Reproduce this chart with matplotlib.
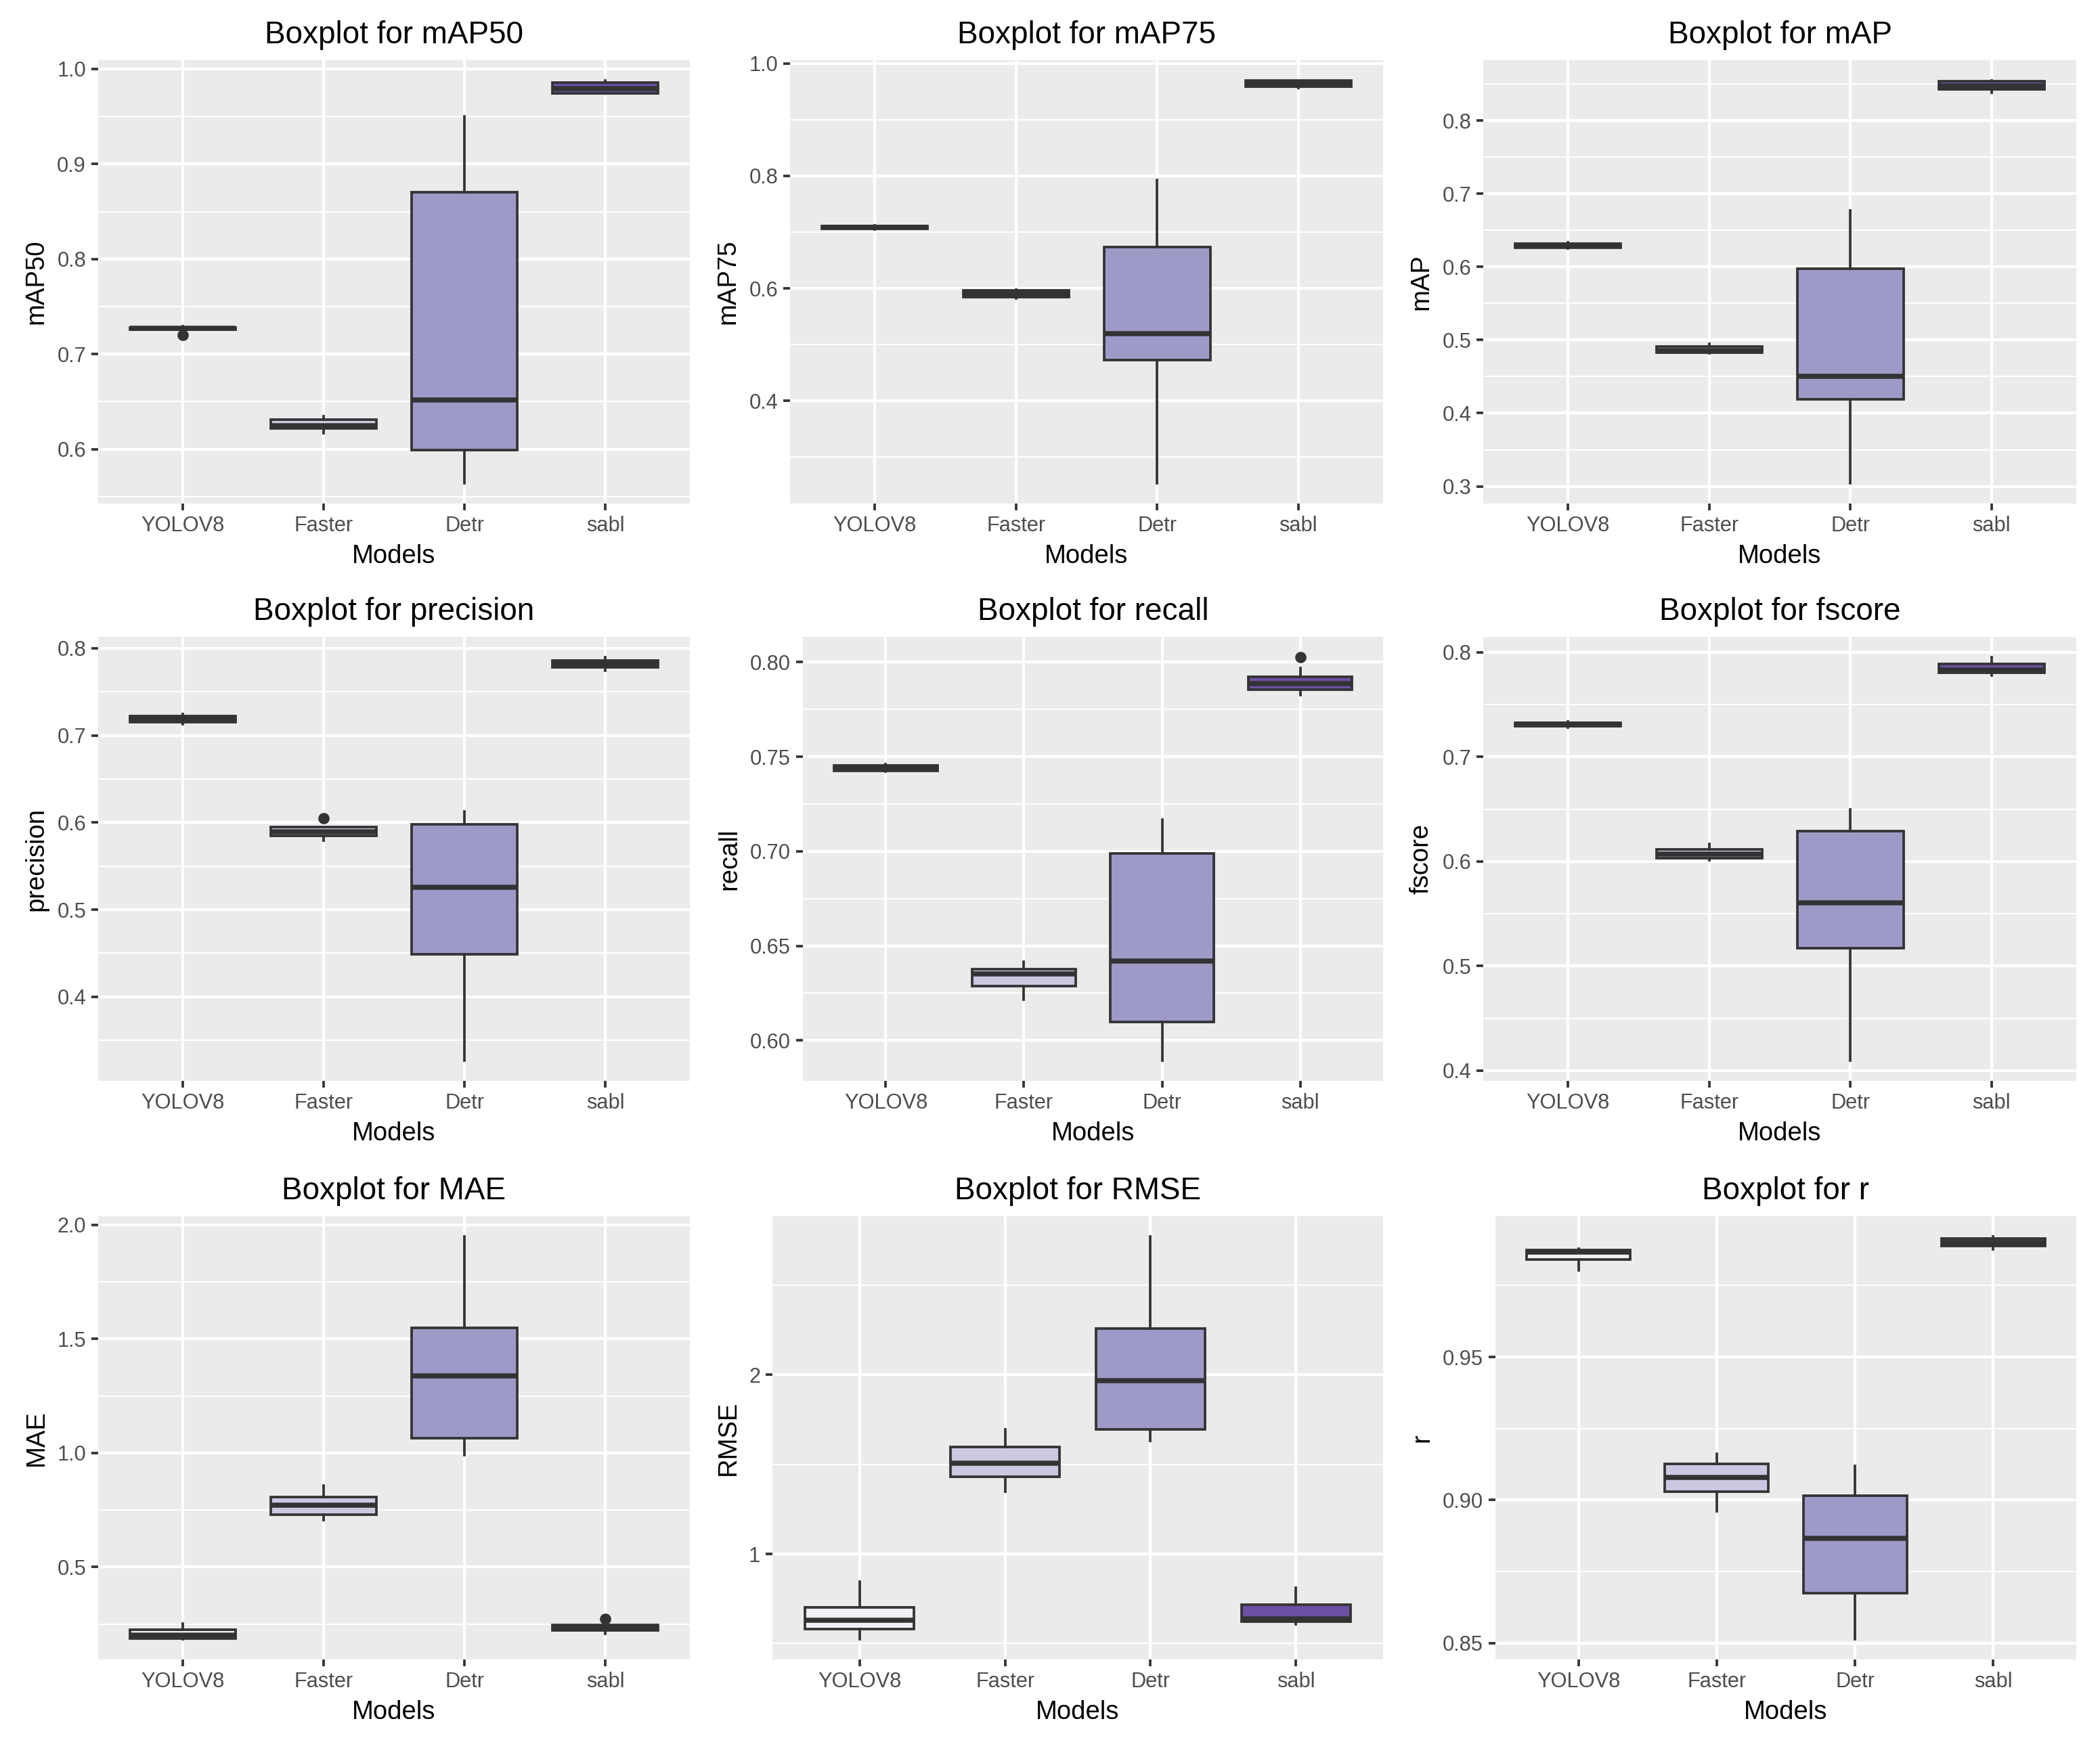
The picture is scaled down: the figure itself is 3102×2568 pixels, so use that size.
import matplotlib
matplotlib.use("Agg")
import matplotlib.pyplot as plt
from matplotlib.ticker import MultipleLocator, FormatStrFormatter

plt.rcParams['font.family'] = ['Liberation Sans', 'DejaVu Sans']

models = ["YOLOV8", "Faster", "Detr", "sabl"]
fills = ["#F2F0F7", "#CBC9E2", "#9E9AC8", "#6A51A3"]

# five numbers per model: lower whisker, q1, median, q3, upper whisker
map50 = [(0.7250, 0.7255, 0.7270, 0.7280, 0.7295),
         (0.617, 0.622, 0.625, 0.631, 0.635),
         (0.564, 0.599, 0.652, 0.870, 0.950),
         (0.974, 0.974, 0.979, 0.986, 0.988)]
map50_out = [[0.720], [], [], []]

map75 = [(0.705, 0.706, 0.709, 0.711, 0.712),
         (0.582, 0.585, 0.590, 0.596, 0.598),
         (0.253, 0.472, 0.519, 0.673, 0.793),
         (0.956, 0.959, 0.965, 0.970, 0.970)]
map75_out = [[], [], [], []]

mapall = [(0.6256, 0.626, 0.629, 0.632, 0.6336),
          (0.482, 0.4825, 0.486, 0.491, 0.495),
          (0.304, 0.4186, 0.450, 0.598, 0.677),
          (0.838, 0.843, 0.847, 0.854, 0.855)]
mapall_out = [[], [], [], []]

precision = [(0.7127, 0.7156, 0.719, 0.7224, 0.7245),
             (0.579, 0.585, 0.589, 0.5945, 0.5945),
             (0.3266, 0.449, 0.5257, 0.598, 0.6127),
             (0.774, 0.778, 0.782, 0.7857, 0.790)]
precision_out = [[], [0.6046], [], []]

recall = [(0.742, 0.7424, 0.744, 0.7455, 0.746),
          (0.6217, 0.6288, 0.6353, 0.6378, 0.6417),
          (0.5893, 0.6097, 0.6421, 0.6988, 0.7169),
          (0.7825, 0.7854, 0.7887, 0.7922, 0.7969)]
recall_out = [[], [], [], [0.8027]]

fscore = [(0.728, 0.7291, 0.731, 0.7327, 0.734),
          (0.6014, 0.6032, 0.6067, 0.6116, 0.6169),
          (0.4095, 0.5172, 0.5607, 0.6291, 0.6498),
          (0.7779, 0.7807, 0.7828, 0.7888, 0.7954)]
fscore_out = [[], [], [], []]

mae = [(0.1833, 0.1881, 0.203, 0.2267, 0.2508),
       (0.706, 0.730, 0.770, 0.807, 0.8585),
       (0.990, 1.066, 1.339, 1.548, 1.950),
       (0.209, 0.2219, 0.233, 0.2476, 0.2476)]
mae_out = [[], [], [], [0.2717]]

rmse = [(0.5235, 0.581, 0.630, 0.7035, 0.8446),
        (1.3476, 1.4294, 1.505, 1.599, 1.695),
        (1.6299, 1.6953, 1.969, 2.2577, 2.773),
        (0.607, 0.6217, 0.636, 0.7178, 0.8119)]
rmse_out = [[], [], [], []]

r_vals = [(0.9803, 0.984, 0.9867, 0.9874, 0.988),
          (0.896, 0.903, 0.9078, 0.9127, 0.9163),
          (0.8513, 0.8674, 0.8865, 0.9015, 0.912),
          (0.9877, 0.9888, 0.990, 0.9915, 0.9922)]
r_out = [[], [], [], []]

panels = [
    ("mAP50", map50, map50_out, 0.1, "%.1f"),
    ("mAP75", map75, map75_out, 0.2, "%.1f"),
    ("mAP", mapall, mapall_out, 0.1, "%.1f"),
    ("precision", precision, precision_out, 0.1, "%.1f"),
    ("recall", recall, recall_out, 0.05, "%.2f"),
    ("fscore", fscore, fscore_out, 0.1, "%.1f"),
    ("MAE", mae, mae_out, 0.5, "%.1f"),
    ("RMSE", rmse, rmse_out, 1.0, "%g"),
    ("r", r_vals, r_out, 0.05, "%.2f"),
]

W, H = 3102, 2568
fig = plt.figure(figsize=(W / 300, H / 300), dpi=300, facecolor="white")

# panel edges in pixels
lefts = [145, 1167, 2191, 145, 1186, 2191, 145, 1141, 2209]
rights = [1019, 2043, 3067]
tops = [89, 941, 1797]
bottoms = [744, 1597, 2452]

edge = "#333333"
for i, (name, stats5, outs, step, fmt) in enumerate(panels):
    row, col = divmod(i, 3)
    l, rgt = lefts[i], rights[col]
    t, b = tops[row], bottoms[row]
    ax = fig.add_axes([l / W, 1 - b / H, (rgt - l) / W, (b - t) / H])
    ax.set_facecolor("#EBEBEB")

    stats = []
    for m, s, fl in zip(models, stats5, outs):
        stats.append(dict(label=m, whislo=s[0], q1=s[1], med=s[2],
                          q3=s[3], whishi=s[4], fliers=fl))
    bp = ax.bxp(stats, positions=[1, 2, 3, 4], widths=0.75,
                patch_artist=True, showcaps=False,
                boxprops=dict(edgecolor=edge, linewidth=0.9),
                whiskerprops=dict(color=edge, linewidth=0.9),
                medianprops=dict(color=edge, linewidth=1.8, solid_capstyle="butt"),
                flierprops=dict(marker="o", markerfacecolor=edge,
                                markeredgecolor=edge, markersize=3))
    for patch, c in zip(bp["boxes"], fills):
        patch.set_facecolor(c)
        patch.set_zorder(3)
    for ln in bp["medians"] + bp["whiskers"] + bp["fliers"]:
        ln.set_zorder(4)

    ax.set_xlim(0.4, 4.6)
    ax.margins(y=0.05)
    ax.autoscale(axis="y")
    ax.yaxis.set_major_locator(MultipleLocator(step))
    ax.yaxis.set_minor_locator(MultipleLocator(step / 2))
    ax.yaxis.set_major_formatter(FormatStrFormatter(fmt))

    ax.set_axisbelow(True)
    ax.grid(which="major", color="white", linewidth=1.0)
    ax.grid(which="minor", axis="y", color="white", linewidth=0.5)
    for sp in ax.spines.values():
        sp.set_visible(False)
    ax.tick_params(axis="both", which="major", length=2.3, width=0.9,
                   color=edge, labelsize=7.4, labelcolor="#4D4D4D", pad=2)
    ax.tick_params(axis="y", which="minor", length=0)

    ax.set_title("Boxplot for " + name, fontsize=11, pad=6)
    ax.set_xlabel("Models", fontsize=9.2, labelpad=3)
    ax.set_ylabel(name, fontsize=9.2, labelpad=3)

fig.savefig("out.png", dpi=300, facecolor="white")
